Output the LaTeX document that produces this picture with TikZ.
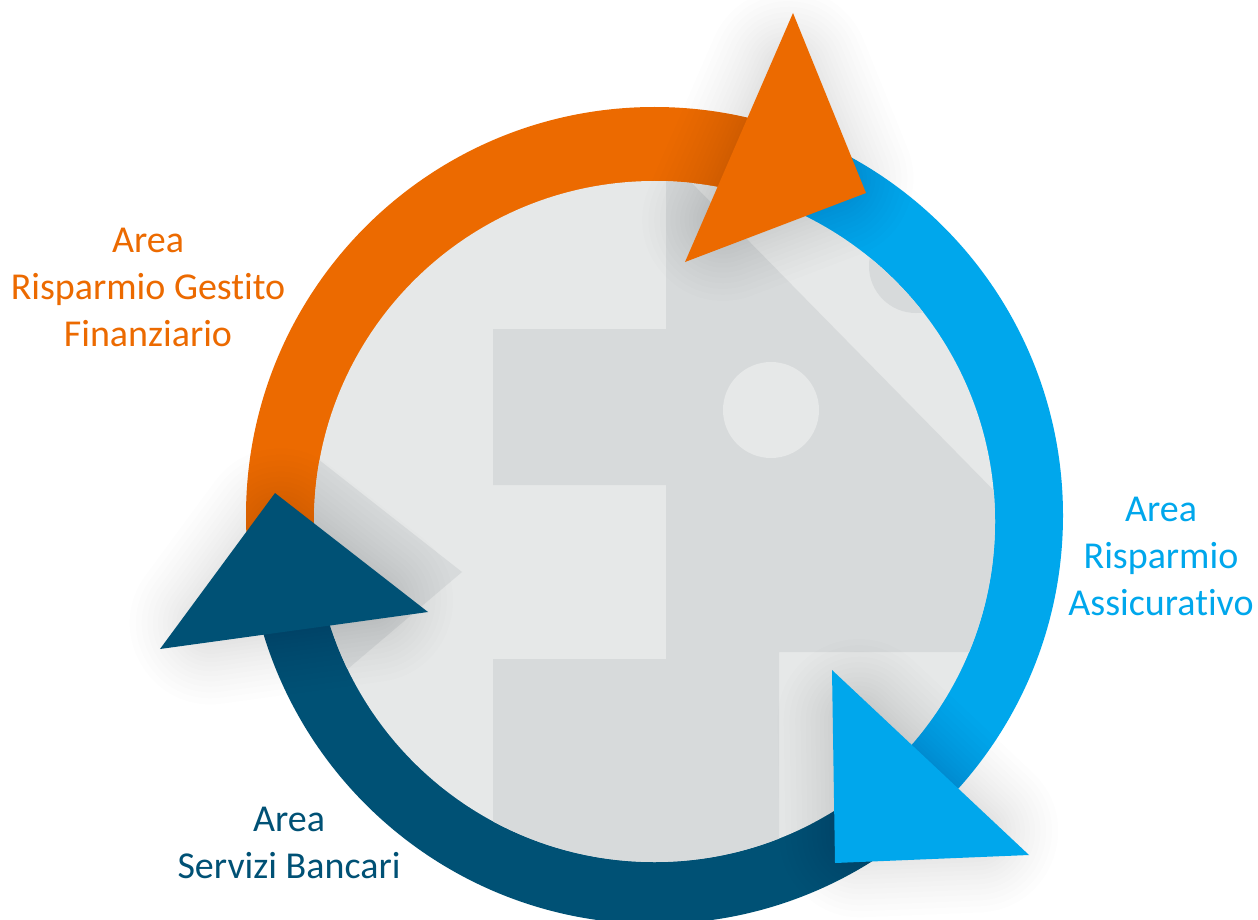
\documentclass[tikz,border=0pt]{standalone}
\usepackage{fontspec}
\setmainfont[Ligatures=NoCommon]{Carlito}
\usetikzlibrary{calc}
\definecolor{cOrange}{HTML}{EC6A00}
\definecolor{cBlue}{HTML}{00A7EC}
\definecolor{cDark}{HTML}{005175}
\definecolor{cLight}{HTML}{E6E8E8}
\definecolor{cGrey}{HTML}{D7DADB}
\tikzset{
  lab/.style={align=center,font=\fontsize{38}{47}\selectfont,inner sep=0pt},
}
\newcommand{\softshadow}[5]{% A B C dx dy
  \coordinate (G) at ($1/3*(#1)+1/3*(#2)+1/3*(#3)$);
  \coordinate (sa) at ($(G)!.6!(#1)$);
  \coordinate (sb) at ($(G)!.6!(#2)$);
  \coordinate (sc) at ($(G)!.6!(#3)$);
  \foreach \i in {1,...,26}{
    \pgfmathsetmacro{\w}{0.24*\i*\i}
    \begin{scope}[transparency group,opacity=.009,shift={(#4,#5)}]
      \filldraw[black,line width=\w pt,line join=round] (sa)--(sb)--(sc)--cycle;
    \end{scope}
  }
}
\begin{document}
\begin{tikzpicture}[x=1pt,y=-1pt]
\useasboundingbox (0,0) rectangle (1258,920);
\fill[white] (0,0) rectangle (1258,920);
% ring
\begin{scope}
  \clip (654.5,515.5) circle [radius=408.5];
  \coordinate (C) at (654.5,520);
  \fill[cOrange] (C)--(945,-260)--(-470,-260)--(-470,640)--cycle;
  \fill[cBlue] (C)--(945,-260)--(2000,-260)--(2000,1360)--(1390,1360)--cycle;
  \fill[cDark] (C)--(1390,1360)--(-470,1360)--(-470,640)--cycle;
\end{scope}
% inner disc
\begin{scope}
  \clip (654.5,521.5) circle [radius=340.5];
  \fill[cLight] (300,170) rectangle (1010,880);
  \fill[cGrey] (666,170)--(666,329)--(493,329)--(493,485)--(666,485)--(666,659)--(493,659)--(493,880)
     --(779,880)--(779,652)--(1010,652)--(1010,507)--(682,173)--cycle;
  \fill[cLight] (771,410) circle [radius=48];
  \fill[cGrey] (916,266) circle [radius=47];
  \fill[cGrey] (300,445)--(462,572)--(330,684)--cycle;
\end{scope}
\coordinate (oa) at (793,13);
\coordinate (ob) at (866,193);
\coordinate (oc) at (685,262);
\coordinate (da) at (275,493);
\coordinate (db) at (428,612);
\coordinate (dc) at (160,649);
\coordinate (ba) at (832,670);
\coordinate (bb) at (1029,855);
\coordinate (bc) at (835,863);
% shadows
\softshadow{oa}{ob}{oc}{12}{28}
\softshadow{da}{db}{dc}{0}{30}
\softshadow{ba}{bb}{bc}{8}{26}
% triangles
\fill[cOrange] (oa)--(ob)--(oc)--cycle;
\fill[cDark] (da)--(db)--(dc)--cycle;
\fill[cBlue] (ba)--(bb)--(bc)--cycle;
% labels
\node[lab,text=cOrange] (l1) at (148,287) {Area\\Risparmio Gestito\\Finanziario};
\node[lab,text=cBlue] (l2) at (1161,556) {Area\\Risparmio\\Assicurativo};
\node[lab,text=cDark] (l3) at (289,843) {Area\\Servizi Bancari};
\end{tikzpicture}
\end{document}
